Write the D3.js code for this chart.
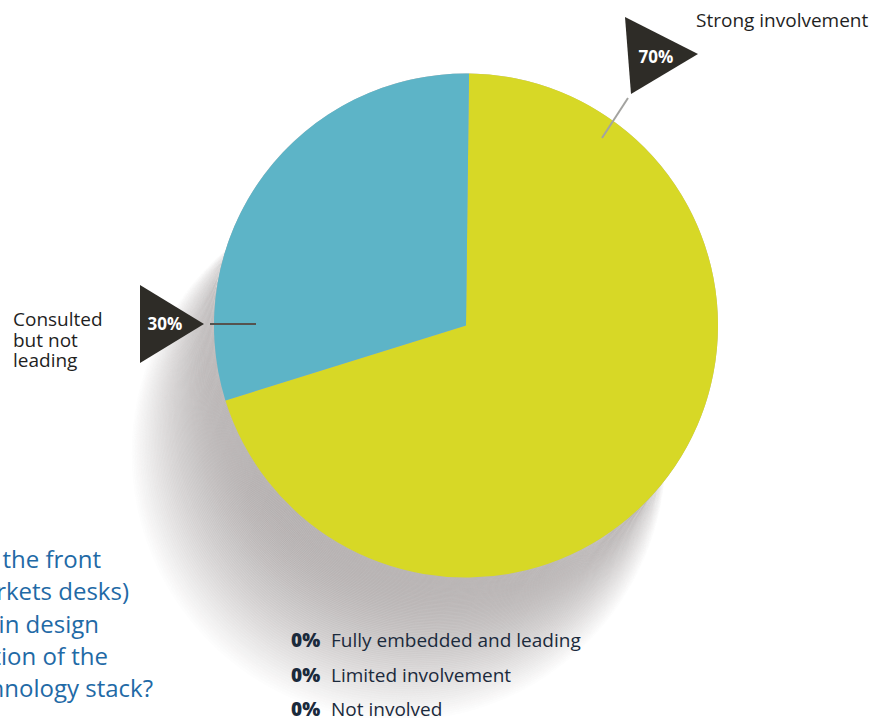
<!DOCTYPE html>
<html>
<head>
<meta charset="utf-8">
<script src="https://cdn.jsdelivr.net/npm/d3@7"></script>
<style>
  html, body { margin: 0; padding: 0; background: #ffffff; }
  svg { display: block; }
  text { font-family: "Open Sans", "Noto Sans", sans-serif; }
</style>
</head>
<body>
<svg id="chart" width="888" height="718"></svg>
<script>
// Survey answers and their shares (percent)
const categories = [
  "Fully embedded and leading",
  "Strong involvement",
  "Consulted but not leading",
  "Limited involvement",
  "Not involved"
];
const values = [0, 70, 30, 0, 0];
const sliceColors = ["#1d6aa8", "#d7d826", "#5db4c7", "#9aa7b0", "#c9ced2"];
const questionLines = [
  "To what extent is the front",
  "office (trading/markets desks)",
  "involved in design",
  "and evolution of the",
  "technology stack?"
];

const W = 888, H = 718;
const cx = 466, cy = 325.5, R = 252;

const svg = d3.select("#chart");

// Soft stepped shadow behind the pie: a blend of circles from the pie
// outline toward a larger offset circle, fading from warm grey to white.
const steps = 90;
const shadowEnd = { x: 398, y: 455, r: 268 };
const shrink = 48; // initial shrink rate keeps the right edge tucked in
const radiusAt = t => R - shrink * t + (shadowEnd.r - R + shrink) * t * t;
const fade = d3.interpolateRgb("#b2adad", "#ffffff");
const stepsData = d3.range(steps, -1, -1).map(i => i / steps);
svg.append("g").attr("class", "shadow")
  .selectAll("circle")
  .data(stepsData)
  .join("circle")
  .attr("cx", t => cx + (shadowEnd.x - cx) * t)
  .attr("cy", t => cy + (shadowEnd.y - cy) * t)
  .attr("r", radiusAt)
  .attr("fill", t => fade(Math.pow(t, 2.2)))
  .attr("stroke", "#ffffff")
  .attr("stroke-opacity", 0.22)
  .attr("stroke-width", 0.6);

// Pie
const pie = d3.pie().sort(null).startAngle(0.012).endAngle(0.012 + 2 * Math.PI);
const arcs = pie(values);
const arc = d3.arc().innerRadius(0).outerRadius(R);
const pieG = svg.append("g").attr("transform", `translate(${cx},${cy})`);
pieG.selectAll("path")
  .data(arcs.filter(a => a.value > 0))
  .join("path")
  .attr("d", arc)
  .attr("fill", a => sliceColors[a.index]);

// Flag callouts for the non-zero answers
const flagFill = "#2e2c27";
function flag(g, pts) {
  g.append("path")
    .attr("d", d3.line()(pts) + "Z")
    .attr("fill", flagFill);
}

// 70% flag (upper right)
const strongIdx = 1;
const g70 = svg.append("g");
g70.append("line")
  .attr("x1", 628).attr("y1", 98).attr("x2", 602).attr("y2", 138)
  .attr("stroke", "#a3a3a0").attr("stroke-width", 2);
flag(g70, [[625, 17], [631, 94], [698, 54]]);
g70.append("text")
  .attr("x", 656).attr("y", 63)
  .attr("text-anchor", "middle")
  .attr("fill", "#ffffff")
  .attr("font-weight", 700)
  .attr("font-size", 17)
  .text(values[strongIdx] + "%");
g70.append("text")
  .attr("x", 696).attr("y", 27)
  .attr("fill", "#1f1f1f")
  .attr("font-size", 19)
  .text(categories[strongIdx]);

// 30% flag (left)
const consultIdx = 2;
const g30 = svg.append("g");
g30.append("line")
  .attr("x1", 210).attr("y1", 324).attr("x2", 256).attr("y2", 324)
  .attr("stroke", "#55534f").attr("stroke-width", 2);
flag(g30, [[140, 285], [140, 363], [204, 324]]);
g30.append("text")
  .attr("x", 165).attr("y", 330)
  .attr("text-anchor", "middle")
  .attr("fill", "#ffffff")
  .attr("font-weight", 700)
  .attr("font-size", 17)
  .text(values[consultIdx] + "%");
const consultLines = ["Consulted", "but not", "leading"];
g30.append("text")
  .attr("fill", "#1f1f1f")
  .attr("font-size", 19)
  .selectAll("tspan")
  .data(consultLines)
  .join("tspan")
  .attr("x", 13)
  .attr("y", (d, i) => 326 + i * 20.5)
  .text(d => d);

// Question text (runs off the left edge)
const qEnds = [101, 129, 99, 108, 153];
svg.append("g")
  .selectAll("text")
  .data(questionLines)
  .join("text")
  .attr("x", (d, i) => qEnds[i])
  .attr("y", (d, i) => 568 + i * 32.3)
  .attr("text-anchor", "end")
  .attr("fill", "#1f6aa6")
  .attr("font-size", 24)
  .text(d => d);

// Zero-share answers listed below the pie
const zeroIdx = values.map((v, i) => i).filter(i => values[i] === 0);
const leg = svg.append("g").selectAll("g")
  .data(zeroIdx)
  .join("g")
  .attr("transform", (d, i) => `translate(291,${647 + i * 34.5})`);
leg.append("text")
  .attr("fill", "#1b2a3c")
  .attr("font-weight", 800)
  .attr("font-size", 19)
  .text(i => values[i] + "%");
leg.append("text")
  .attr("x", 40)
  .attr("fill", "#1b2a3c")
  .attr("font-size", 19)
  .text(i => categories[i]);
</script>
</body>
</html>
